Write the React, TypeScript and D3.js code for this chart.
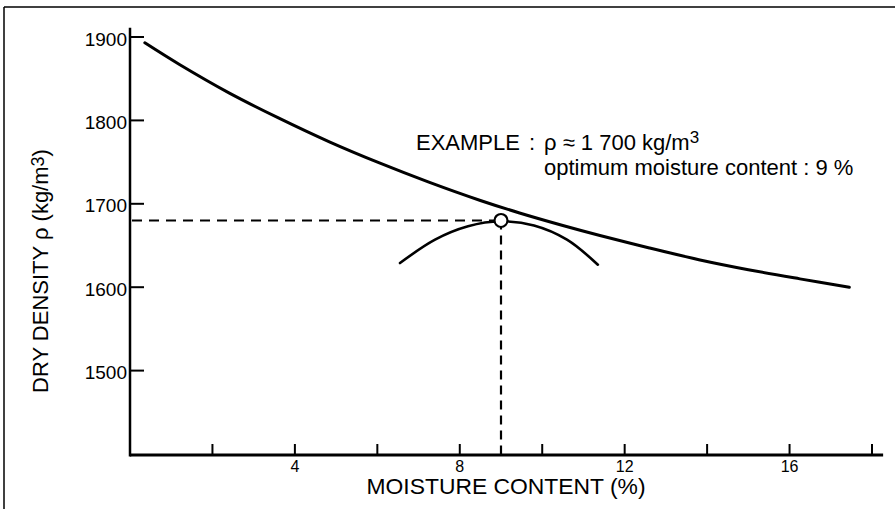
import React from 'react';
import * as d3 from 'd3';

// Compaction curve (dry density vs moisture content) – upper envelope
const mainX = [0.36, 1.2, 2.4, 3.6, 4.85, 6.05, 7.25, 8.5, 9.45, 10.5, 11.4, 12.6, 13.8, 15.0, 16.25, 17.45];
const mainY = [1893, 1867, 1833, 1803, 1774, 1749, 1726, 1704, 1689, 1674, 1662, 1647, 1633, 1621, 1610, 1600];

// Example Proctor arc
const arcX = [6.55, 7.4, 8.2, 8.99, 9.8, 10.6, 11.35];
const arcY = [1629, 1657, 1673, 1679, 1674, 1657, 1627];

// Optimum point
const optX = [9];
const optY = [1680];

const yTicks = [1500, 1600, 1700, 1800, 1900];
const xTicks = [2, 4, 6, 8, 10, 12, 14, 16, 18];
const xLabels = [4, 8, 12, 16];

const W = 895;
const H = 509;
const FONT = '"Liberation Sans", Arial, Helvetica, sans-serif';

export default function App() {
  const x = d3.scaleLinear().domain([0, 18]).range([130, 872]);
  const y = d3.scaleLinear().domain([1400, 1900]).range([454, 37]);

  const mainLine = d3
    .line<number>()
    .x((_, i) => x(mainX[i]))
    .y((_, i) => y(mainY[i]))
    .curve(d3.curveCatmullRom.alpha(0.5));

  const arcLine = d3
    .line<number>()
    .x((_, i) => x(arcX[i]))
    .y((_, i) => y(arcY[i]))
    .curve(d3.curveCatmullRom.alpha(0.5));

  const x0 = x(0);
  const yBase = y(1400) + 1;
  const yTop = y(1911);
  const xEnd = x(18.27);
  const ox = x(optX[0]);
  const oy = y(optY[0]);

  return (
    <svg
      width={W}
      height={H}
      viewBox={`0 0 ${W} ${H}`}
      style={{ position: 'absolute', left: 0, top: 0, background: '#fff' }}
      fontFamily={FONT}
    >
      <rect x={0} y={0} width={W} height={H} fill="#fff" />
      {/* frame */}
      <line x1={4} y1={7} x2={W} y2={7} stroke="#000" strokeWidth={1.5} />
      <line x1={4} y1={7} x2={4} y2={H} stroke="#000" strokeWidth={1.5} />

      {/* axes */}
      <line x1={x0} y1={yTop} x2={x0} y2={yBase + 1.5} stroke="#000" strokeWidth={2.5} />
      <line x1={x0} y1={yBase} x2={xEnd} y2={yBase} stroke="#000" strokeWidth={2.8} />

      {/* y ticks */}
      {yTicks.map((t) => (
        <g key={`yt${t}`}>
          <line x1={x0} y1={y(t)} x2={x0 + 14} y2={y(t)} stroke="#000" strokeWidth={2} />
          <text x={127} y={y(t) + 8.5} textAnchor="end" fontSize={19} fill="#000">
            {t}
          </text>
        </g>
      ))}

      {/* x ticks */}
      {xTicks.map((t) => (
        <line key={`xt${t}`} x1={x(t)} y1={yBase} x2={x(t)} y2={yBase - 11} stroke="#000" strokeWidth={2} />
      ))}
      {xLabels.map((t) => (
        <text key={`xl${t}`} x={x(t)} y={472} textAnchor="middle" fontSize={16} fill="#000">
          {t}
        </text>
      ))}

      {/* axis titles */}
      <text
        x={506}
        y={494}
        textAnchor="middle"
        fontSize={22}
        textLength={279}
        lengthAdjust="spacingAndGlyphs"
        fill="#000"
      >
        MOISTURE CONTENT (%)
      </text>
      <text
        transform={`translate(48,271) rotate(-90)`}
        textAnchor="middle"
        fontSize={22}
        fill="#000"
      >
        DRY DENSITY ρ (kg/m<tspan fontSize={18} dy={-4}>3</tspan>
        <tspan dy={4}>)</tspan>
      </text>

      {/* dashed guides */}
      <line x1={x0 + 2} y1={oy} x2={ox} y2={oy} stroke="#000" strokeWidth={2} strokeDasharray="10,7" />
      <line x1={ox} y1={oy} x2={ox} y2={yBase} stroke="#000" strokeWidth={2.2} strokeDasharray="9,6" />

      {/* curves */}
      <path d={mainLine(mainX) || ''} fill="none" stroke="#000" strokeWidth={3} strokeLinecap="round" />
      <path d={arcLine(arcX) || ''} fill="none" stroke="#000" strokeWidth={2.6} strokeLinecap="round" />

      {/* optimum point */}
      <circle cx={ox} cy={oy} r={6.5} fill="#fff" stroke="#000" strokeWidth={2.2} />

      {/* annotation */}
      <text x={416} y={150} fontSize={22} fill="#000">EXAMPLE</text>
      <text x={529} y={150} fontSize={22} fill="#000">:</text>
      <text x={544} y={150} fontSize={22} fill="#000">
        ρ ≈ 1 700 kg/m<tspan fontSize={17} dy={-7}>3</tspan>
      </text>
      <text x={544} y={175} fontSize={22} fill="#000">
        optimum moisture content : 9 %
      </text>
    </svg>
  );
}
